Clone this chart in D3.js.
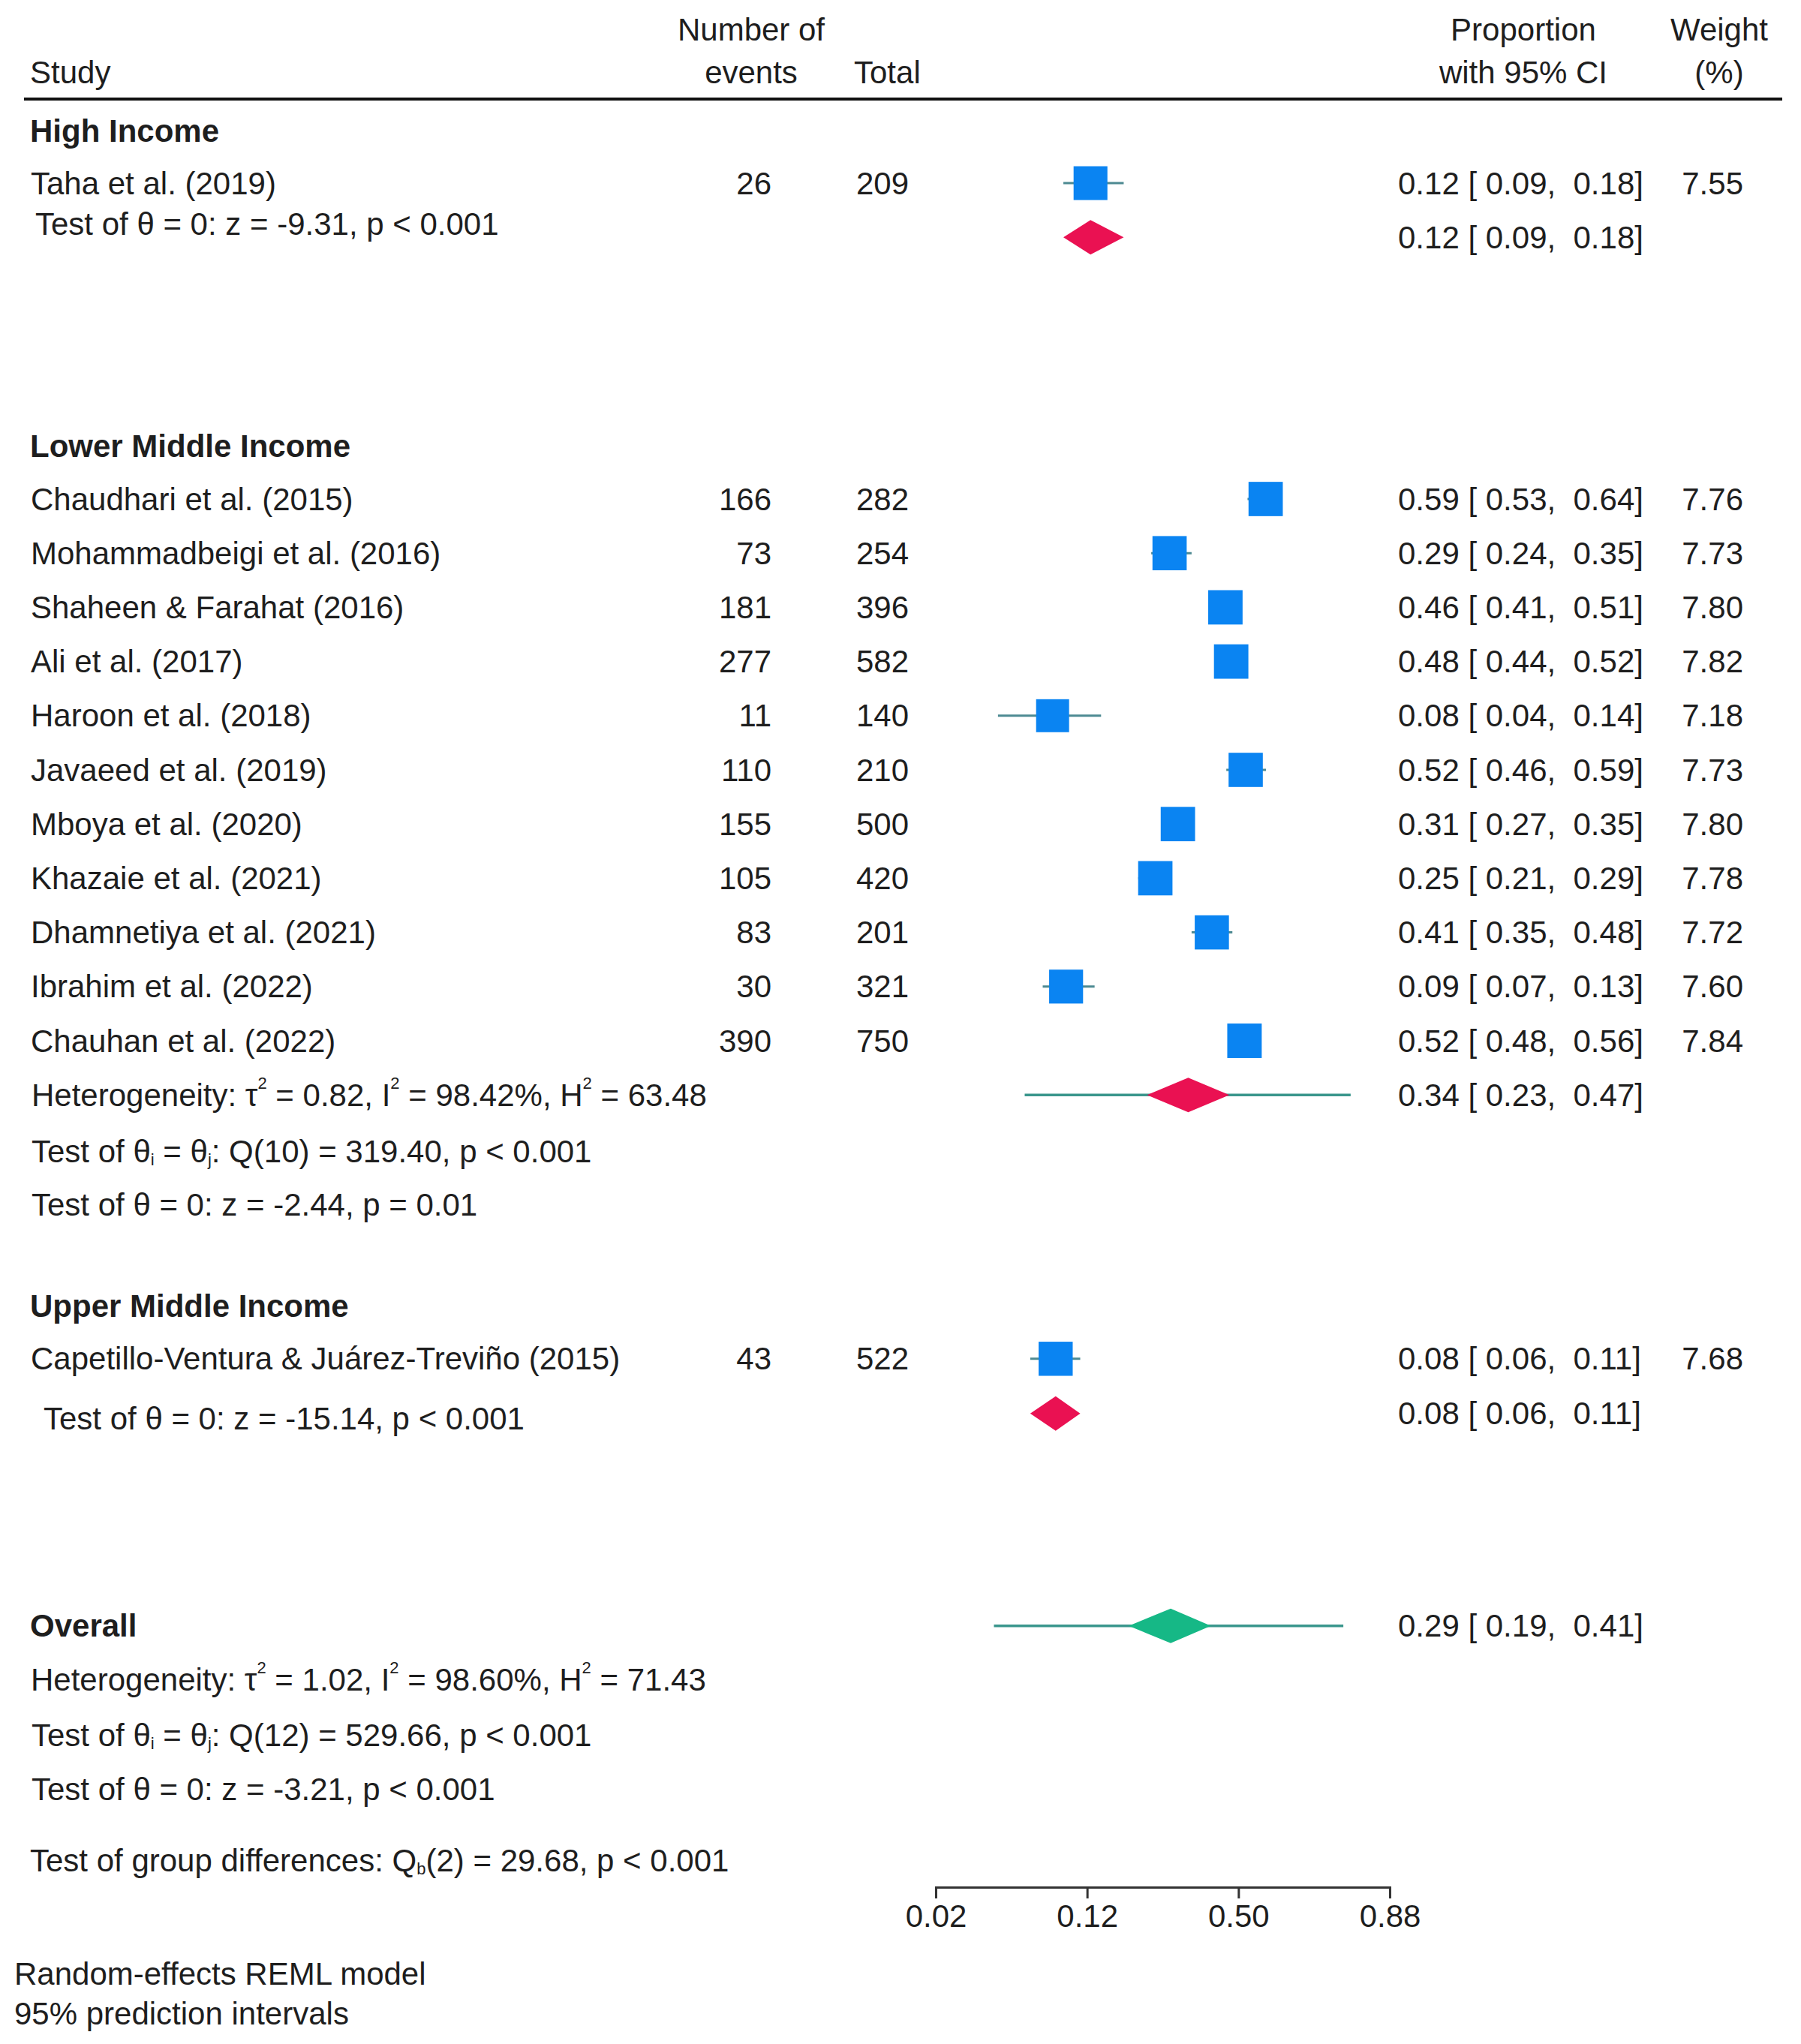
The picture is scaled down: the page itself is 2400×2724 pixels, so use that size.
<!DOCTYPE html>
<html><head><meta charset="utf-8">
<script src="https://cdn.jsdelivr.net/npm/d3@7"></script>
<style>
html,body{margin:0;padding:0;background:#fff;}
svg text{font-family:"Liberation Sans",Arial,Helvetica,sans-serif;fill:#1e1e1e;font-size:42px;}
</style></head><body>
<svg id="chart" width="2400" height="2724"></svg>
<script>
// ---------------- DATA ----------------
const groups = ["High Income", "Lower Middle Income", "Upper Middle Income"];
const studyNames = [
  "Taha et al. (2019)",
  "Chaudhari et al. (2015)", "Mohammadbeigi et al. (2016)", "Shaheen & Farahat (2016)",
  "Ali et al. (2017)", "Haroon et al. (2018)", "Javaeed et al. (2019)", "Mboya et al. (2020)",
  "Khazaie et al. (2021)", "Dhamnetiya et al. (2021)", "Ibrahim et al. (2022)", "Chauhan et al. (2022)",
  "Capetillo-Ventura & Juárez-Treviño (2015)"
];
const studyGroup = [0, 1,1,1,1,1,1,1,1,1,1,1, 2];
const events  = [26, 166, 73, 181, 277, 11, 110, 155, 105, 83, 30, 390, 43];
const totals  = [209, 282, 254, 396, 582, 140, 210, 500, 420, 201, 321, 750, 522];
const props   = [0.124, 0.589, 0.287, 0.457, 0.476, 0.079, 0.524, 0.310, 0.250, 0.413, 0.093, 0.520, 0.082];
const ciLow   = [0.09, 0.53, 0.24, 0.41, 0.44, 0.04, 0.46, 0.27, 0.21, 0.35, 0.07, 0.48, 0.06];
const ciHigh  = [0.18, 0.64, 0.35, 0.51, 0.52, 0.14, 0.59, 0.35, 0.29, 0.48, 0.13, 0.56, 0.11];
const weights = [7.55, 7.76, 7.73, 7.80, 7.82, 7.18, 7.73, 7.80, 7.78, 7.72, 7.60, 7.84, 7.68];

// subgroup pooled estimates
const subEst    = [0.124, 0.340, 0.082];
const subLow    = [0.09, 0.23, 0.06];
const subHigh   = [0.18, 0.47, 0.11];
const subPILow  = [null, 0.056, null];
const subPIHigh = [null, 0.815, null];

// overall pooled estimate
const overallEst = 0.29, overallLow = 0.19, overallHigh = 0.41;
const overallPILow = 0.038, overallPIHigh = 0.80;

// axis ticks (logit scale)
const tickLogits = [-4, -2, 0, 2];
const tickLabels = ["0.02", "0.12", "0.50", "0.88"];

// statistics text (segments: [text, kind])
const hiTest   = [["Test of θ = 0: z = -9.31, p < 0.001","n"]];
const lmiHet   = [["Heterogeneity: τ","n"],["2","sup"],[" = 0.82, I","n"],["2","sup"],[" = 98.42%, H","n"],["2","sup"],[" = 63.48","n"]];
const lmiQ     = [["Test of θ","n"],["i","sub"],[" = θ","n"],["j","sub"],[": Q(10) = 319.40, p < 0.001","n"]];
const lmiZ     = [["Test of θ = 0: z = -2.44, p = 0.01","n"]];
const umiTest  = [["Test of θ = 0: z = -15.14, p < 0.001","n"]];
const ovHet    = [["Heterogeneity: τ","n"],["2","sup"],[" = 1.02, I","n"],["2","sup"],[" = 98.60%, H","n"],["2","sup"],[" = 71.43","n"]];
const ovQ      = [["Test of θ","n"],["i","sub"],[" = θ","n"],["j","sub"],[": Q(12) = 529.66, p < 0.001","n"]];
const ovZ      = [["Test of θ = 0: z = -3.21, p < 0.001","n"]];
const groupDiff= [["Test of group differences: Q","n"],["b","sub"],["(2) = 29.68, p < 0.001","n"]];
const footnotes = ["Random-effects REML model", "95% prediction intervals"];

// ---------------- LAYOUT ----------------
const L = {
  studySlots: [-5.83, 0,1,2,3,4,5,6,7,8,9,10, 15.87],
  groupSlots: [-6.80, -0.97, 14.89],
  subDiamondSlots: [-4.83, 11.0, 16.88],
  colLabel: 40, colEvents: 1028, colTotal: 1211, colCI: 1863, colWeight: 2323
};
const C = {
  square: "#0a84f2", whisker: "#4d8a92", pi: "#3a968c",
  subDiamond: "#ea1152", overall: "#16b886", text: "#1e1e1e"
};

const svg = d3.select("#chart");
const logit = p => Math.log(p / (1 - p));
const x = d3.scaleLinear().domain([-4, 2]).range([1247, 1852]);
const X = p => x(logit(p));
const yRow = d3.scaleLinear().domain([0, 1]).range([665, 737.2]);
const f2 = d3.format(".2f");
const ciText = (p, l, h) => `${f2(p)} [ ${f2(l)},  ${f2(h)}]`;

function rich(x0, y0, segs, opts = {}) {
  const t = svg.append("text").attr("x", x0).attr("y", y0)
    .attr("dominant-baseline", "central").style("white-space", "pre");
  if (opts.bold) t.attr("font-weight", "bold");
  let shift = 0;
  segs.forEach(([s, k]) => {
    const sp = t.append("tspan").text(s);
    let target = k === "sup" ? -16 : k === "sub" ? 11 : 0;
    sp.attr("dy", target - shift);
    shift = target;
    if (k !== "n") sp.attr("font-size", 22);
  });
  return t;
}
function txt(x0, y0, s, anchor = "start", bold = false) {
  return svg.append("text").attr("x", x0).attr("y", y0)
    .attr("dominant-baseline", "central").attr("text-anchor", anchor)
    .attr("font-weight", bold ? "bold" : null).style("white-space", "pre").text(s);
}

// ---------------- HEADER ----------------
txt(40, 96, "Study");
txt(1001, 39, "Number of", "middle");
txt(1001, 96, "events", "middle");
txt(1138, 96, "Total");
txt(2030, 39, "Proportion", "middle");
txt(2030, 96, "with 95% CI", "middle");
txt(2291, 39, "Weight", "middle");
txt(2291, 96, "(%)", "middle");
svg.append("line").attr("x1", 32).attr("x2", 2375).attr("y1", 132).attr("y2", 132)
  .attr("stroke", "#111").attr("stroke-width", 4);

// ---------------- GROUP HEADERS ----------------
groups.forEach((g, i) => txt(L.colLabel, yRow(L.groupSlots[i]), g, "start", true));

// ---------------- STUDIES ----------------
const studies = studyNames.map((n, i) => ({
  name: n, ev: events[i], tot: totals[i], p: props[i], lo: ciLow[i], hi: ciHigh[i], w: weights[i],
  y: yRow(L.studySlots[i])
}));
const sg = svg.append("g");
sg.selectAll("line.ci").data(studies).join("line")
  .attr("x1", d => X(d.lo)).attr("x2", d => X(d.hi))
  .attr("y1", d => d.y).attr("y2", d => d.y)
  .attr("stroke", C.whisker).attr("stroke-width", 3);
sg.selectAll("rect.sq").data(studies).join("rect")
  .attr("x", d => X(d.p) - 16.4 * Math.sqrt(d.w) / 2)
  .attr("y", d => d.y - 16.4 * Math.sqrt(d.w) / 2)
  .attr("width", d => 16.4 * Math.sqrt(d.w))
  .attr("height", d => 16.4 * Math.sqrt(d.w))
  .attr("fill", C.square);
studies.forEach(d => {
  txt(L.colLabel + 1, d.y, d.name);
  txt(L.colEvents, d.y, String(d.ev), "end");
  txt(L.colTotal, d.y, String(d.tot), "end");
  txt(L.colCI, d.y, ciText(d.p, d.lo, d.hi));
  txt(L.colWeight, d.y, f2(d.w), "end");
});

// ---------------- SUBGROUP SUMMARIES ----------------
const diamond = (est, lo, hi, y, h) =>
  `M${X(lo)},${y} L${X(est)},${y - h} L${X(hi)},${y} L${X(est)},${y + h} Z`;
groups.forEach((g, i) => {
  const y = yRow(L.subDiamondSlots[i]);
  if (subPILow[i] != null) {
    svg.append("line").attr("x1", X(subPILow[i])).attr("x2", X(subPIHigh[i]))
      .attr("y1", y).attr("y2", y).attr("stroke", C.pi).attr("stroke-width", 3.5);
  }
  svg.append("path").attr("d", diamond(subEst[i], subLow[i], subHigh[i], y, 23)).attr("fill", C.subDiamond);
  txt(L.colCI, y, ciText(subEst[i], subLow[i], subHigh[i]));
});

// subgroup statistics
rich(47, yRow(-5.08), hiTest);
rich(42, yRow(11.0), lmiHet);
rich(42, yRow(12.03), lmiQ);
rich(42, yRow(13.02), lmiZ);
rich(58, yRow(16.96), umiTest);

// ---------------- OVERALL ----------------
const yOv = yRow(20.80);
txt(L.colLabel, yOv, "Overall", "start", true);
svg.append("line").attr("x1", X(overallPILow)).attr("x2", X(overallPIHigh))
  .attr("y1", yOv).attr("y2", yOv).attr("stroke", C.pi).attr("stroke-width", 3.5);
svg.append("path").attr("d", diamond(overallEst, overallLow, overallHigh, yOv, 23)).attr("fill", C.overall);
txt(L.colCI, yOv, ciText(overallEst, overallLow, overallHigh));
rich(41, yRow(21.79), ovHet);
rich(42, yRow(22.81), ovQ);
rich(42, yRow(23.81), ovZ);
rich(40, yRow(25.12), groupDiff);

// ---------------- AXIS ----------------
const ax = svg.append("g").attr("transform", "translate(0,2515)")
  .call(d3.axisBottom(x).tickValues(tickLogits).tickFormat((d, i) => tickLabels[i])
    .tickSize(15).tickSizeOuter(15).tickPadding(8));
ax.selectAll("path,line").attr("stroke", "#333").attr("stroke-width", 3);
ax.selectAll("text").attr("font-size", 42).attr("fill", C.text)
  .attr("font-family", "'Liberation Sans',Arial,sans-serif");

// ---------------- FOOTNOTES ----------------
footnotes.forEach((s, i) => svg.append("text").attr("x", 19).attr("y", 2645 + i * 53).text(s));
</script>
</body></html>
